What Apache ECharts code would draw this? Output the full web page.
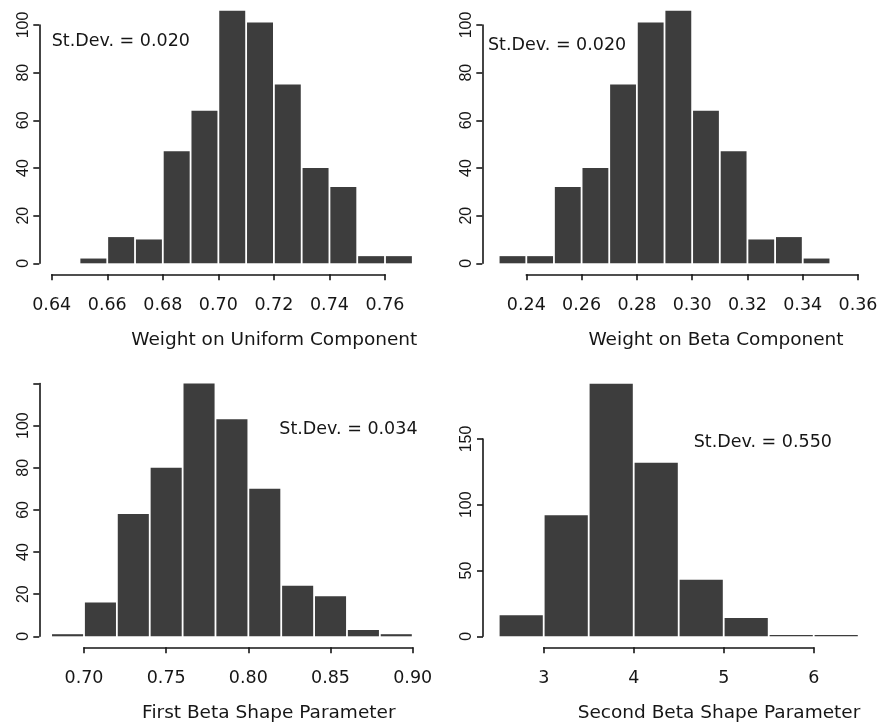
<!DOCTYPE html>
<html>
<head>
<meta charset="utf-8">
<script src="https://cdn.jsdelivr.net/npm/echarts@6/dist/echarts.min.js"></script>
<style>
html,body{margin:0;padding:0;background:#fff;}
#c{width:886px;height:726px;}
</style>
</head>
<body>
<div id="c"></div>
<script>
// ---------- data ----------
const uniformEdges = [0.65,0.66,0.67,0.68,0.69,0.70,0.71,0.72,0.73,0.74,0.75,0.76,0.77];
const uniformCounts = [2,11,10,47,64,106,101,75,40,32,3,3];
const uniformXTicks = [0.64,0.66,0.68,0.70,0.72,0.74,0.76];
const uniformYTicks = [0,20,40,60,80,100];

const betaEdges = [0.23,0.24,0.25,0.26,0.27,0.28,0.29,0.30,0.31,0.32,0.33,0.34,0.35];
const betaCounts = [3,3,32,40,75,101,106,64,47,10,11,2];
const betaXTicks = [0.24,0.26,0.28,0.30,0.32,0.34,0.36];
const betaYTicks = [0,20,40,60,80,100];

const shape1Edges = [0.68,0.70,0.72,0.74,0.76,0.78,0.80,0.82,0.84,0.86,0.88,0.90];
const shape1Counts = [1,16,58,80,120,103,70,24,19,3,1];
const shape1XTicks = [0.70,0.75,0.80,0.85,0.90];
const shape1YTicks = [0,20,40,60,80,100,120];
const shape1YLabels = ['0','20','40','60','80','100',''];

const shape2Edges = [2.5,3.0,3.5,4.0,4.5,5.0,5.5,6.0,6.5];
const shape2Counts = [16,92,192,132,43,14,1,1];
const shape2XTicks = [3,4,5,6];
const shape2YTicks = [0,50,100,150];

const xTitles = ['Weight on Uniform Component','Weight on Beta Component','First Beta Shape Parameter','Second Beta Shape Parameter'];
const sdLabels = ['St.Dev. = 0.020','St.Dev. = 0.020','St.Dev. = 0.034','St.Dev. = 0.550'];

// ---------- layout (pixels) ----------
const panels = [
  {edges:uniformEdges,counts:uniformCounts,xt:uniformXTicks,yt:uniformYTicks,dec:2,
   xA:51.7,xB:385,axisY:274.3,yAxisX:39.3,y0:263.3,yTopPx:25,
   sd:{x:51.7,y:41.7},title:{x:274.3,y:340}},
  {edges:betaEdges,counts:betaCounts,xt:betaXTicks,yt:betaYTicks,dec:2,
   xA:526.3,xB:858,axisY:274.3,yAxisX:482.3,y0:263.3,yTopPx:25,
   sd:{x:488,y:45.7},title:{x:716,y:340}},
  {edges:shape1Edges,counts:shape1Counts,xt:shape1XTicks,yt:shape1YTicks,ylab:shape1YLabels,dec:2,
   xA:84,xB:412.7,axisY:647.3,yAxisX:39.3,y0:636.3,yTopPx:383.5,
   sd:{x:279.3,y:429.7},title:{x:268.8,y:713}},
  {edges:shape2Edges,counts:shape2Counts,xt:shape2XTicks,yt:shape2YTicks,dec:0,
   xA:543.7,xB:813.7,axisY:647.3,yAxisX:483,y0:636.3,yTopPx:439,
   sd:{x:693.7,y:442},title:{x:719,y:713}}
];

const INK = '#161616';
const BAR = '#3d3d3d';
const GAP = 0.9;
const grids = [], xAxes = [], yAxes = [], series = [], graphics = [];

panels.forEach((p, i) => {
  const t0 = p.xt[0], t1 = p.xt[p.xt.length-1];
  const xpx = v => p.xA + (v - t0) / (t1 - t0) * (p.xB - p.xA);
  const yMaxTick = p.yt[p.yt.length-1];
  const ypx = v => p.y0 - v / yMaxTick * (p.y0 - p.yTopPx);
  const e0 = p.edges[0], eN = p.edges[p.edges.length-1];
  const yTop = Math.max(yMaxTick, Math.max.apply(null, p.counts)) * 1.02;

  // grid for bars
  const gBar = grids.length;
  grids.push({left:xpx(e0), top:ypx(yTop), width:xpx(eN)-xpx(e0), height:p.y0-ypx(yTop), outerBoundsMode:'none', containLabel:false});
  xAxes.push({gridIndex:gBar, type:'value', min:e0, max:eN, show:false});
  yAxes.push({gridIndex:gBar, type:'value', min:0, max:yTop, show:false});
  const data = p.counts.map((c, k) => [p.edges[k], p.edges[k+1], c]);
  series.push({
    type:'custom', xAxisIndex:gBar, yAxisIndex:gBar, data:data, silent:true,
    encode:{x:[0,1], y:2},
    renderItem:(params, api) => {
      const a = api.coord([api.value(0), api.value(2)]);
      const b = api.coord([api.value(1), 0]);
      const h = Math.max(b[1]-a[1], 1.2);
      return {type:'rect', shape:{x:a[0]+GAP, y:b[1]-h, width:b[0]-a[0]-2*GAP, height:h},
              style:{fill:BAR}};
    }
  });

  // grid for x axis
  const gX = grids.length;
  grids.push({left:p.xA, top:p.axisY-10, width:p.xB-p.xA, height:10, outerBoundsMode:'none', containLabel:false});
  xAxes.push({gridIndex:gX, type:'value', position:'bottom', min:t0, max:t1, interval:p.xt[1]-p.xt[0],
    splitLine:{show:false},
    axisLine:{show:true, lineStyle:{color:INK, width:1.6}},
    axisTick:{show:true, length:6, lineStyle:{color:INK, width:1.6}},
    axisLabel:{show:true, margin:22, color:INK, fontFamily:'DejaVu Sans', fontSize:17.5,
      formatter: v => v.toFixed(p.dec)}});
  yAxes.push({gridIndex:gX, type:'value', min:0, max:1, show:false});

  // grid for y axis
  const gY = grids.length;
  grids.push({left:p.yAxisX, top:p.yTopPx, width:10, height:p.y0-p.yTopPx, outerBoundsMode:'none', containLabel:false});
  xAxes.push({gridIndex:gY, type:'value', min:0, max:1, show:false});
  yAxes.push({gridIndex:gY, type:'value', position:'left', min:0, max:yMaxTick, interval:p.yt[1]-p.yt[0],
    splitLine:{show:false},
    axisLine:{show:true, lineStyle:{color:INK, width:1.6}},
    axisTick:{show:true, length:6, lineStyle:{color:INK, width:1.6}},
    axisLabel:{show:true, rotate:90, margin:8, color:INK, fontFamily:'Liberation Sans', fontSize:16,
      formatter: v => {
        if (p.ylab) { const k = p.yt.indexOf(v); return k >= 0 ? p.ylab[k] : ''; }
        return String(v);
      }}});

  graphics.push({type:'text', x:p.sd.x, y:p.sd.y, silent:true,
    style:{text:sdLabels[i], fill:INK, font:'17.5px "DejaVu Sans"', textAlign:'left', textVerticalAlign:'middle'}});
  graphics.push({type:'text', x:p.title.x, y:p.title.y, silent:true,
    style:{text:xTitles[i], fill:INK, font:'18.5px "DejaVu Sans"', textAlign:'center', textVerticalAlign:'middle'}});
});

const chart = echarts.init(document.getElementById('c'), null, {renderer:'canvas'});
chart.setOption({
  backgroundColor:'#ffffff',
  animation:false,
  grid:grids, xAxis:xAxes, yAxis:yAxes, series:series,
  graphic:{elements:graphics}
});
</script>
</body>
</html>
